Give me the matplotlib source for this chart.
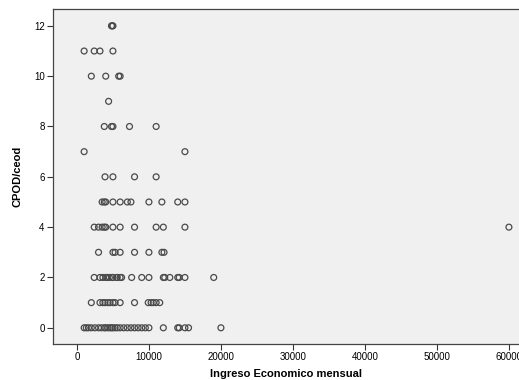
import numpy as np
import matplotlib.pyplot as plt

plt.rcParams['font.family'] = ['Liberation Sans', 'DejaVu Sans']

# Ingreso economico mensual por cada valor de CPOD/ceod
ingreso_por_cpod = {
    12: [4800, 4900, 5000],
    11: [1000, 2400, 3200, 5000],
    10: [2000, 4000, 5800, 6000],
    9: [4400],
    8: [3800, 4800, 5000, 7300, 11000],
    7: [1000, 15000],
    6: [3900, 5000, 8000, 11000],
    5: [3500, 3800, 4000, 5000, 6000, 7000, 7500, 10000, 11800, 14000, 15000],
    4: [2400, 3000, 3500, 3800, 4000, 5000, 6000, 8000, 11000, 12000, 15000, 60000],
    3: [3000, 5000, 5300, 6000, 8000, 10000, 11800, 12100],
    2: [2400, 3200, 3600, 4000, 4200, 4500, 4900, 5000, 5500, 5600, 6000, 6200,
        7600, 9000, 10000, 12000, 12200, 12900, 14000, 14200, 15000, 19000],
    1: [2000, 3200, 3600, 3900, 4300, 4600, 5000, 5300, 6000, 8000,
        9900, 10300, 10600, 11000, 11500],
    0: [1000, 1300, 1600, 2000, 2500, 3000, 3400, 3800, 4000, 4300, 4600, 4800,
        5000, 5300, 5600, 6000, 6500, 7000, 7500, 8000, 8500, 9000, 9500,
        10000, 12000, 14000, 14200, 15000, 15500, 20000],
}

x = []
y = []
for cpod, valores in ingreso_por_cpod.items():
    for v in valores:
        x.append(v)
        y.append(cpod)

fig = plt.figure(figsize=(5.19, 3.80), dpi=100)
ax = fig.add_axes([0.102, 0.095, 0.898, 0.882])
ax.set_facecolor('#f0f0f0')

# circulos abiertos como en SPSS
ax.scatter(x, y, s=18, facecolors='none', edgecolors='#4a4a4a', linewidths=0.9)

ax.set_xlim(-3333, 61400)
ax.set_ylim(-0.64, 12.68)
ax.set_xticks([0, 10000, 20000, 30000, 40000, 50000, 60000])
ax.set_yticks([0, 2, 4, 6, 8, 10, 12])
ax.tick_params(labelsize=7, length=4, width=0.8, color='#333333', pad=2)

for s in ['left', 'bottom', 'top']:
    ax.spines[s].set_color('#444444')
    ax.spines[s].set_linewidth(0.9)
ax.spines['right'].set_visible(False)

ax.set_xlabel('Ingreso Economico mensual', fontsize=8, fontweight='bold', labelpad=5)
ax.set_ylabel('CPOD/ceod', fontsize=8, fontweight='bold', labelpad=8)

fig.savefig('out.png', dpi=100)
